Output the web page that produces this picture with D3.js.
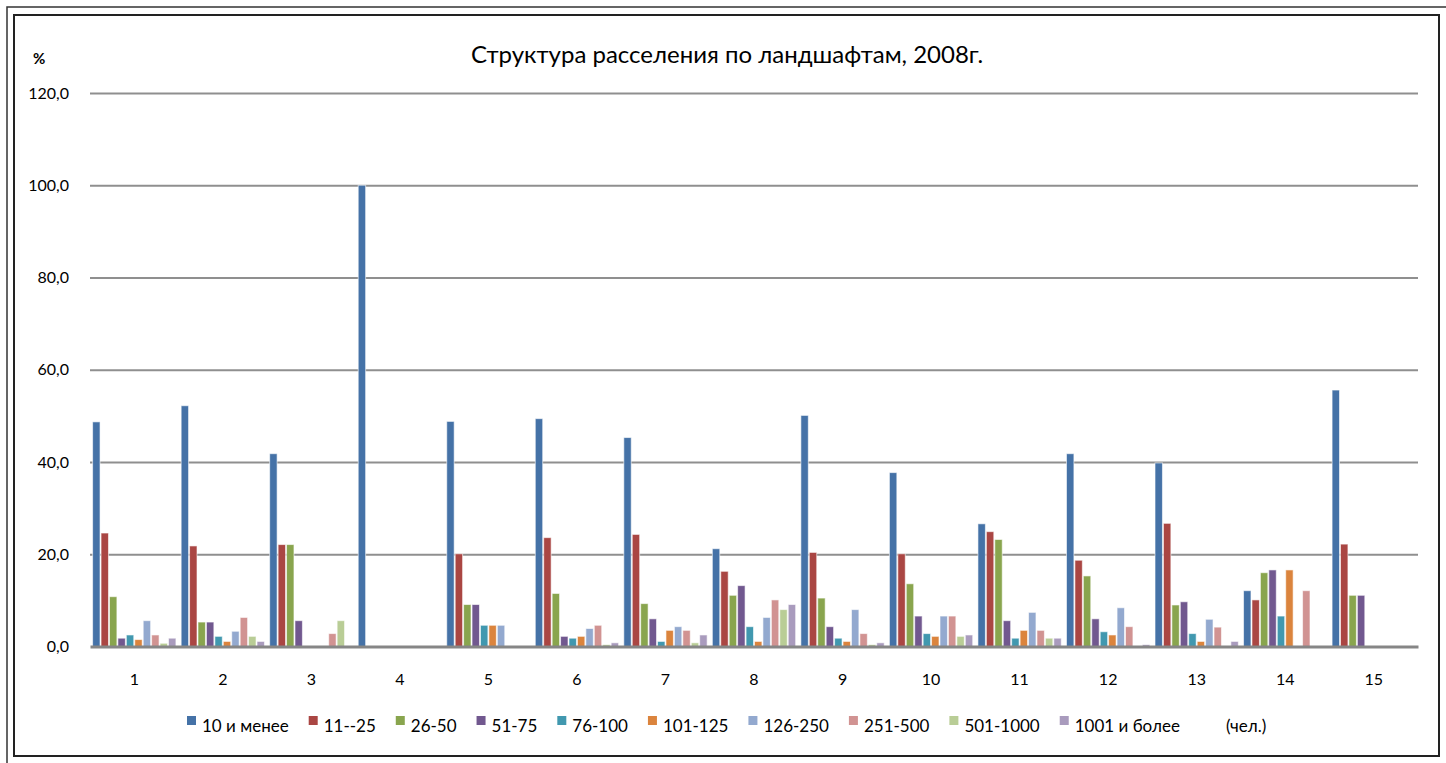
<!DOCTYPE html>
<html>
<head>
<meta charset="utf-8">
<script src="https://cdn.jsdelivr.net/npm/d3@7/dist/d3.min.js"></script>
<style>
  html, body { margin: 0; padding: 0; background: #fff; }
  svg { display: block; font-family: Lato, "Open Sans", sans-serif; }
  .grid line { stroke: #8f8f8f; stroke-width: 2; }
  .grid path { display: none; }
  .tick text { fill: #000; }
</style>
</head>
<body>
<div id="chart"></div>
<script>
/* ---------- Data ---------- */
const landscapes = ["1","2","3","4","5","6","7","8","9","10","11","12","13","14","15"];
const groupsLabel = ["10 и менее","11--25","26-50","51-75","76-100","101-125","126-250","251-500","501-1000","1001 и более"];
const yTicks = [0, 20, 40, 60, 80, 100, 120];

const v10   = [48.7, 52.2, 41.8, 100, 48.8, 49.4, 45.3, 21.2, 50.1, 37.7, 26.6, 41.8, 39.8, 12.1, 55.6];
const v25   = [24.6, 21.8, 22.1, 0, 20.1, 23.6, 24.3, 16.3, 20.4, 20.1, 24.9, 18.7, 26.7, 10.1, 22.2];
const v50   = [10.8, 5.3, 22.1, 0, 9.1, 11.5, 9.3, 11.1, 10.5, 13.6, 23.2, 15.3, 9.0, 16.0, 11.1];
const v75   = [1.8, 5.3, 5.6, 0, 9.1, 2.2, 6.0, 13.2, 4.3, 6.6, 5.6, 6.0, 9.7, 16.6, 11.1];
const v100  = [2.5, 2.2, 0, 0, 4.6, 1.8, 1.1, 4.3, 1.8, 2.8, 1.8, 3.2, 2.8, 6.6, 0];
const v125  = [1.5, 1.1, 0, 0, 4.6, 2.2, 3.5, 1.1, 1.1, 2.2, 3.5, 2.5, 1.1, 16.6, 0];
const v250  = [5.6, 3.3, 0, 0, 4.6, 3.9, 4.3, 6.3, 8.0, 6.6, 7.4, 8.4, 5.9, 0, 0];
const v500  = [2.5, 6.3, 2.8, 0, 0, 4.6, 3.5, 10.1, 2.8, 6.6, 3.5, 4.3, 4.2, 12.1, 0];
const v1000 = [0.7, 2.2, 5.6, 0, 0, 0.4, 0.8, 8.0, 0.4, 2.2, 1.8, 0, 0, 0, 0];
const vMore = [1.8, 1.1, 0, 0, 0, 0.8, 2.5, 9.1, 0.8, 2.5, 1.8, 0.4, 1.1, 0, 0];

const seriesValues = [v10, v25, v50, v75, v100, v125, v250, v500, v1000, vMore];
const colors = ["#4572A7","#AA4643","#89A54E","#71588F","#4198AF","#DB843D","#93A9CF","#D19392","#B9CD96","#A99BBD"];

/* ---------- Layout ---------- */
const W = 1446, H = 763;
const M = { top: 93, right: 28, bottom: 116, left: 90 };

const svg = d3.select("#chart").append("svg")
  .attr("width", W).attr("height", H);

// frames
svg.append("rect").attr("x", 7).attr("y", 7).attr("width", W + 10).attr("height", H + 10)
  .attr("fill", "none").attr("stroke", "#333").attr("stroke-width", 1.5);
svg.append("rect").attr("x", 14).attr("y", 15).attr("width", 1425).attr("height", 741)
  .attr("fill", "none").attr("stroke", "#222").attr("stroke-width", 2);

const x0 = d3.scaleBand().domain(landscapes).range([M.left, W - M.right]).padding(0);
const x1 = d3.scaleBand().domain(d3.range(groupsLabel.length))
  .range([0, x0.bandwidth()]).paddingInner(0).paddingOuter(0.25);
const y = d3.scaleLinear().domain([0, 120]).range([H - M.bottom - 0.5, M.top]);

// grid
svg.append("g")
  .attr("class", "grid")
  .attr("transform", `translate(${M.left},0)`)
  .call(d3.axisLeft(y).tickValues(yTicks.filter(t => t > 0))
    .tickSize(-(W - M.right - M.left)).tickFormat(""));

// y labels
const fmt = d => d3.format(".1f")(d).replace(".", ",");
svg.append("g")
  .attr("transform", `translate(${M.left - 18},0)`)
  .call(d3.axisLeft(y).tickValues(yTicks).tickSize(0).tickFormat(fmt))
  .call(g => g.select(".domain").remove())
  .call(g => g.selectAll("text").attr("font-size", 16).attr("font-family", "Lato, sans-serif"));

svg.append("text").attr("x", 33).attr("y", 64)
  .attr("font-size", 15).attr("font-weight", "bold").text("%");

// bars
const rows = landscapes.map((c, i) => ({ c, vals: seriesValues.map(s => s[i]) }));
svg.append("g").selectAll("g")
  .data(rows)
  .join("g")
    .attr("transform", d => `translate(${x0(d.c)},0)`)
  .selectAll("rect")
  .data(d => d.vals.map((v, k) => ({ k, v })).filter(e => e.v > 0))
  .join("rect")
    .attr("x", e => x1(e.k) + 0.5)
    .attr("y", e => y(e.v))
    .attr("width", x1.bandwidth() - 1)
    .attr("height", e => y(0) - y(e.v))
    .attr("fill", e => colors[e.k])
    .attr("stroke", "#fff")
    .attr("stroke-opacity", 0.6)
    .attr("stroke-width", 1);

// baseline + x labels
svg.append("g")
  .attr("transform", `translate(0,${y(0)})`)
  .call(d3.axisBottom(x0).tickSize(0).tickPadding(27))
  .call(g => g.select(".domain").attr("stroke", "#868686").attr("stroke-width", 3))
  .call(g => g.selectAll("text").attr("font-size", 16).attr("font-family", "Lato, sans-serif"));

// title
svg.append("text").attr("x", 727).attr("y", 63).attr("text-anchor", "middle")
  .attr("font-size", 24).text("Структура расселения по ландшафтам, 2008г.");

// legend
const legend = svg.append("g").attr("transform", "translate(187,0)");
let lx = 0;
groupsLabel.forEach((name, k) => {
  const g = legend.append("g").attr("transform", `translate(${lx},0)`);
  g.append("rect").attr("x", 0).attr("y", 716).attr("width", 9).attr("height", 9).attr("fill", colors[k]);
  const t = g.append("text").attr("x", 15).attr("y", 732).attr("font-size", 17).text(name);
  lx += 15 + t.node().getComputedTextLength() + 20;
});
svg.append("text").attr("x", 1226).attr("y", 732).attr("font-size", 17).text("(чел.)");
</script>
</body>
</html>
